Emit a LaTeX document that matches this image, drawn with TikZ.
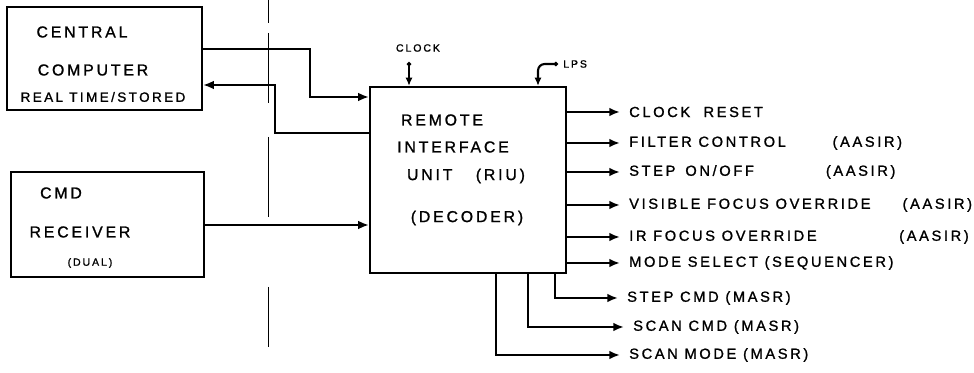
\documentclass[tikz,border=0pt]{standalone}
\usepackage{fontspec}
\setmainfont{Liberation Sans}
\newfontfamily\hand[LetterSpace=18,FakeBold=1.2]{Liberation Sans}
\usetikzlibrary{arrows.meta,positioning}

\tikzset{
  block/.style={draw, line width=1.9pt, rectangle, inner sep=0pt},
  sig/.style={line width=1.8pt, -{Latex[length=3.2mm,width=2.6mm]}},
  lbl/.style={font=\hand\fontsize{12.5}{14}\selectfont, anchor=west, inner xsep=2.7mm, inner ysep=0pt},
  txt/.style={font=\hand\fontsize{13.5}{15}\selectfont, inner sep=0pt},
  tiny/.style={font=\hand\fontsize{9}{10}\selectfont, inner sep=0pt},
}

\begin{document}
\begin{tikzpicture}[x=0.3mm, y=-0.3mm]
    \useasboundingbox (0,0) rectangle (974,373);

    % boundary line
    \draw[line width=0.8pt, dash pattern=on 6.9mm off 3mm on 21mm off 10.2mm on 24mm off 21mm on 18mm off 10mm]
        (268,0) -- (268,373);

    % Central computer
    \node[block, minimum width=58.5mm, minimum height=30.9mm] (comp) at (104.5,58.5) {};
    \node[txt] (compa) at (82,32) {CENTRAL};
    \node[txt] (compb) at (93,70) {COMPUTER};
    \node[txt, font=\hand\fontsize{11.5}{13}\selectfont] (compc) at (103,97) {REAL TIME/STORED};

    % CMD receiver
    \node[block, minimum width=57.9mm, minimum height=31.5mm] (rcvr) at (107.5,224.5) {};
    \node[txt] (rcvra) at (61,193) {CMD};
    \node[txt] (rcvrb) at (80,232) {RECEIVER};
    \node[tiny] (rcvrc) at (90,263) {(DUAL)};

    % Remote interface unit
    \node[block, minimum width=58.8mm, minimum height=55.8mm] (riu) at (468,180) {};
    \node[txt] (riua) at (442,120) {REMOTE};
    \node[txt] (riub) at (453,147) {INTERFACE};
    \node[txt] (riuc) at (466,176) {UNIT\hspace{7mm}(RIU)};
    \node[txt] (riud) at (467,218) {(DECODER)};

    % Clock and LPS inputs
    \coordinate (clkdot) at (409,62);
    \node[tiny] (clk) at (418,48) {CLOCK};
    \draw[sig, {Circle[length=3.5pt]}-{Latex[length=2.5mm,width=2.2mm]}] (clkdot) -- (riu.north -| clkdot);
    \coordinate (lpsdot) at (558,64);
    \node[tiny, anchor=west, inner xsep=1.5mm] (lps) at (lpsdot) {LPS};
    \draw[sig, rounded corners=2mm, {Circle[length=3.5pt]}-{Latex[length=2.5mm,width=2.2mm]}] (lpsdot) -| (riu.north -| 538,0);

    % Links to the RIU
    \draw[sig] (comp.east |- 0,49) -| (310,97) -- (riu.west |- 0,97);
    \draw[sig] (riu.west |- 0,133) -| (275,85) -- (comp.east |- 0,85);
    \draw[sig] (rcvr.east |- 0,225) -- (riu.west |- 0,225);

    % Outputs
    \node[lbl] (o1) at (620,112) {CLOCK\hspace{4mm}RESET};
    \node[lbl] (o2) at (620,143) {\makebox[61mm][l]{FILTER CONTROL}(AASIR)};
    \node[lbl] (o3) at (620,172) {\makebox[59mm][l]{STEP\hspace{3mm}ON/OFF}(AASIR)};
    \node[lbl] (o4) at (620,205) {\makebox[82mm][l]{VISIBLE FOCUS OVERRIDE}(AASIR)};
    \node[lbl] (o5) at (620,237) {\makebox[81mm][l]{IR FOCUS OVERRIDE}(AASIR)};
    \node[lbl] (o6) at (620,263) {MODE SELECT (SEQUENCER)};
    \node[lbl] (o7) at (618,298) {STEP CMD (MASR)};
    \node[lbl] (o8) at (624,327) {SCAN CMD (MASR)};
    \node[lbl] (o9) at (620,355) {SCAN MODE (MASR)};

    \foreach \n in {o1,o2,o3,o4,o5,o6}
        \draw[sig] (riu.east |- \n.west) -- (\n.west);
    \draw[sig] (riu.south -| 555,0) |- (o7.west);
    \draw[sig] (riu.south -| 528,0) |- (o8.west);
    \draw[sig] (riu.south -| 496,0) |- (o9.west);
\end{tikzpicture}
\end{document}
